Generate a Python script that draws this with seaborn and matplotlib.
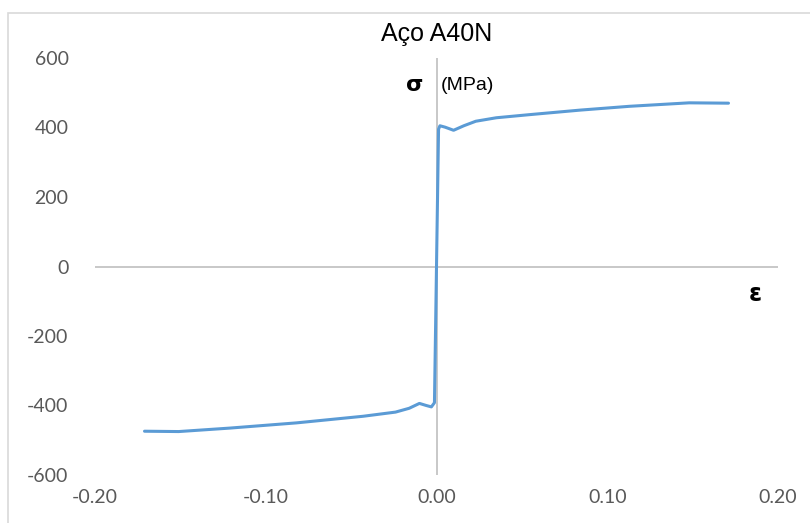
import matplotlib
matplotlib.use("Agg")
import matplotlib.pyplot as plt
import seaborn as sns
import pandas as pd
from matplotlib.patches import Rectangle

# Data
strain = [-0.171, -0.151, -0.121, -0.082, -0.043, -0.024, -0.016, -0.010, -0.006,
          -0.003, -0.0012, 0.0, 0.0012, 0.002, 0.005, 0.010, 0.016, 0.023, 0.035,
          0.0545, 0.084, 0.113, 0.148, 0.171]
stress = [-474, -475, -465, -450, -431, -419, -408, -394, -400,
          -404, -392, 0, 395, 405, 401, 392, 405, 418, 428,
          437, 450, 461, 471, 470]
x_ticks = [-0.20, -0.10, 0.00, 0.10, 0.20]
y_ticks = [-600, -400, -200, 0, 200, 400, 600]
title = "Aço A40N"

sns.set_theme(style="white")
plt.rcParams["axes.unicode_minus"] = False
plt.rcParams["font.family"] = ["Lato", "DejaVu Sans"]

df = pd.DataFrame({"strain": strain, "stress": stress})

fig = plt.figure(figsize=(8.1, 5.23), dpi=100)
W, H = 810, 523
ax = fig.add_axes([95 / W, 1 - 475 / H, 683 / W, 417 / H])

# chart border
fig.patches.append(Rectangle((8 / W, -0.01), 1.0, 1 - 13 / H + 0.01, transform=fig.transFigure,
                             fill=False, edgecolor="#d9d9d9", linewidth=1.2))

ax.axhline(0, color="#bfbfbf", lw=1.2, zorder=1)
ax.axvline(0, color="#bfbfbf", lw=1.2, zorder=1)

sns.lineplot(data=df, x="strain", y="stress", sort=False, estimator=None,
             color="#5b9bd5", linewidth=2.2, ax=ax, zorder=3)

ax.set_xlim(-0.2, 0.2)
ax.set_ylim(-600, 600)
ax.set_xticks(x_ticks)
ax.set_xticklabels([f"{v:.2f}" for v in x_ticks])
ax.set_yticks(y_ticks)
ax.set_yticklabels([str(v) for v in y_ticks])
ax.tick_params(axis="both", length=0, labelsize=14, colors="#595959")
ax.tick_params(axis="x", pad=10)
ax.tick_params(axis="y", pad=19)
ax.set_xlabel("")
ax.set_ylabel("")
for s in ax.spines.values():
    s.set_visible(False)

fig.text(437 / W, 1 - 34 / H, title, ha="center", va="center", fontsize=18,
         family=["Liberation Sans"], color="#000000")
fig.text(415 / W, 1 - 85 / H, "σ", ha="center", va="center", fontsize=16,
         fontweight="bold", family=["DejaVu Sans"], color="#000000")
fig.text(441 / W, 1 - 86 / H, "(MPa)", ha="left", va="center", fontsize=14,
         family=["Liberation Sans"], color="#000000")
fig.text(755 / W, 1 - 294 / H, "ε", ha="center", va="center", fontsize=17,
         fontweight="bold", family=["DejaVu Sans"], color="#000000")

fig.savefig("out.png", dpi=100)
